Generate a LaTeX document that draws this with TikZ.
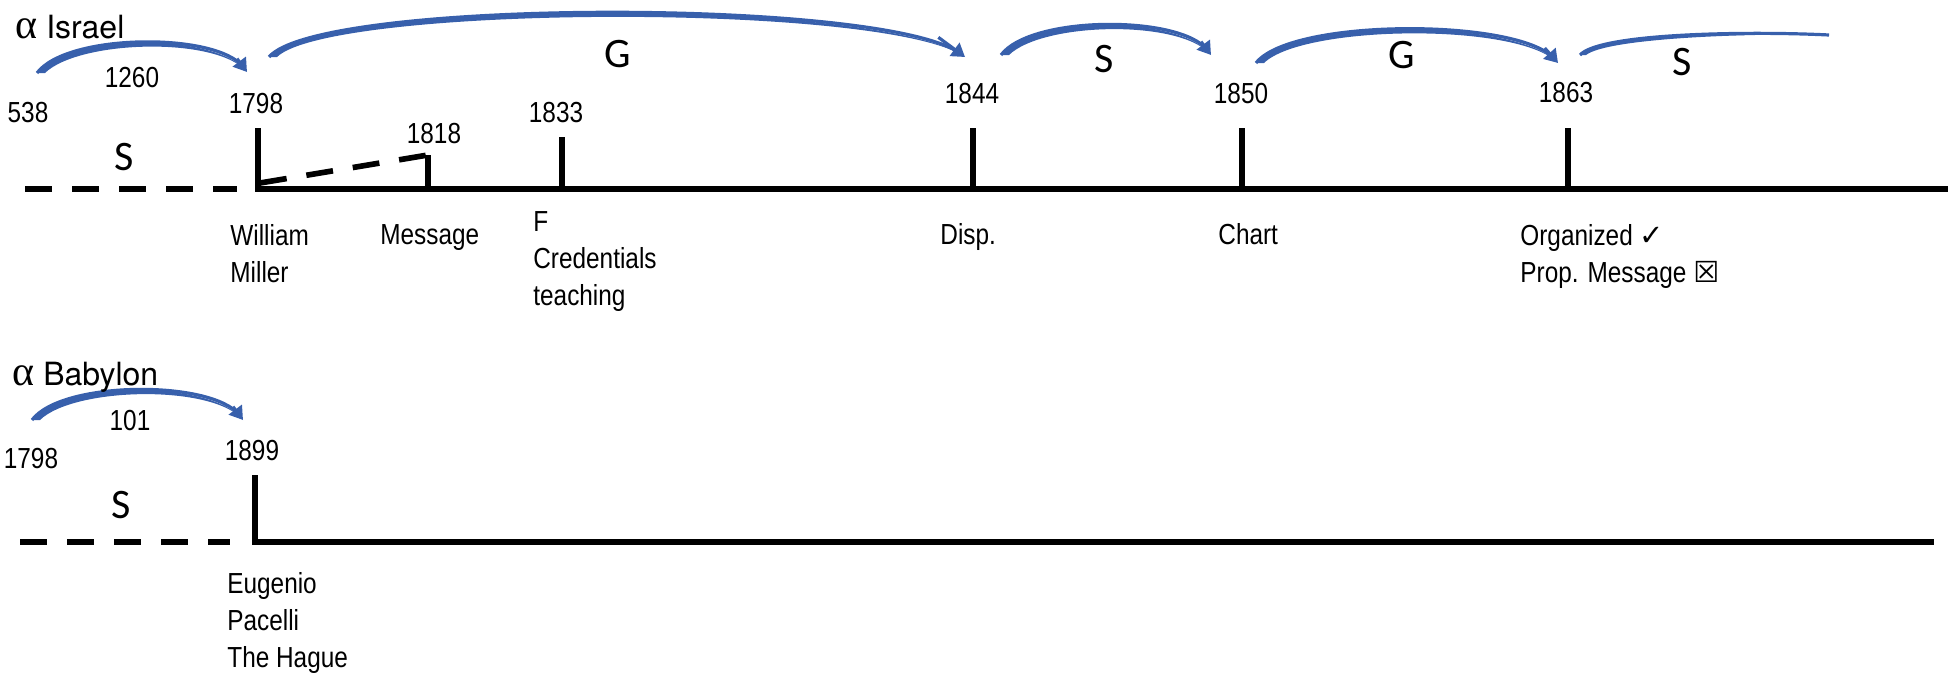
\documentclass[tikz,border=0pt]{standalone}
\usepackage{fontspec}
\setmainfont[FakeStretch=0.84]{Liberation Sans}
\newfontfamily\titlefont{TeX Gyre Heros}
\newfontfamily\alphafont{Liberation Serif}
\newfontfamily\periodfont{Carlito}
\newfontfamily\markfont{DejaVu Sans}
\usetikzlibrary{arrows.meta}
\definecolor{arcblue}{RGB}{56,96,172}
\tikzset{
    timeline/.style={line width=3.25pt, black},
    dashline/.style={line width=3.25pt, black, dash pattern=on 13.5pt off 10pt},
    tickline/.style={line width=3pt, black},
    arcline/.style={line width=1.6pt, arcblue},
    period/.style={arcline, -{Triangle[length=6.5pt,width=8pt]}},
    year/.style={anchor=base, inner sep=0pt, font=\fontsize{14.5}{18.5}\selectfont},
    event/.style={anchor=north west, align=left, inner sep=0pt, font=\fontsize{14.5}{18.5}\selectfont},
    kind/.style={anchor=base, inner sep=0pt, font=\periodfont\fontsize{21}{24}\selectfont},
    title/.style={anchor=base west, inner sep=0pt, font=\titlefont\fontsize{16}{19}\selectfont},
}
\begin{document}
\begin{tikzpicture}[x=0.5pt, y=-0.5pt]
    \useasboundingbox (0,0) rectangle (1948,675);

    % Israel line
    \node[title] (israel) at (15,38) {{\alphafont\fontsize{21}{21}\selectfont α} Israel};

    \coordinate (i0) at (25,189);
    \coordinate (i1) at (237,189);
    \coordinate (i2) at (255,189);
    \coordinate (iend) at (1948,189);
    \draw[dashline] (i0) -- (i1);
    \draw[timeline] (i2) -- (iend);

    \foreach \x/\top/\yr in {258/128/1798, 428/155/1818, 562/137/1833,
                             973/128/1844, 1242/128/1850, 1568/128/1863} {
        \coordinate (b\yr) at (\x,189);
        \coordinate (k\yr) at (\x,\top);
        \draw[tickline] (b\yr) -- (k\yr);
    }

    \coordinate (s1798) at (260,183);
    \draw[dashline, line width=2.8pt] (s1798) -- (k1818);

    % Years
    \foreach \yr/\lx/\ly in {538/28/122, 1798/256/113, 1818/434/143, 1833/556/122,
                             1844/972/103, 1850/1241/103, 1863/1566/102} {
        \node[year] (y\yr) at (\lx,\ly) {\yr};
    }
    \node[year] (d1260) at (132,87) {1260};

    % Periods
    \coordinate (f538) at (37,73);
    \coordinate (e1798) at (247,72);
    \coordinate (f1798) at (269,57);
    \coordinate (e1844) at (965,57);
    \coordinate (f1844) at (1001,55);
    \coordinate (e1850) at (1211,55);
    \coordinate (f1850) at (1256,63);
    \coordinate (e1863) at (1558,63);
    \coordinate (f1863) at (1580,55);
    \coordinate (e1863s) at (1829,35);
    \coordinate (g1798) at (32,420);
    \coordinate (h1899) at (243,420);

    \foreach \f/\e/\a/\b/\h in {f538/e1798/30/30/40, f1798/e1844/50/80/59,
                                f1844/e1850/30/30/40, f1850/e1863/35/40/45,
                                g1798/h1899/30/30/40} {
        \fill[arcblue] (\f) .. controls +(\a,-\h) and +(-\b,-\h) .. (\e)
            .. controls +(-\b,-\h+4) and +(\a+4,-\h+7) .. ([xshift=4pt]\f) -- cycle;
        \draw[arcline, shorten >=3pt] (\f) .. controls +(\a,-\h) and +(-\b,-\h) .. (\e);
        \draw[period] (\e) ++(-\b/3,-\h/3) -- (\e);
    }
    \fill[arcblue] (f1863) .. controls +(20,-22) and +(-80,-4) .. (e1863s)
        .. controls +(-80,-2) and +(22,-17) .. ([xshift=3pt]f1863) -- cycle;
    \draw[arcline] (f1863) .. controls +(20,-22) and +(-80,-4) .. (e1863s);

    \node[kind] (p1) at (124,170) {S};
    \node[kind] (p2) at (618,67) {G};
    \node[kind] (p3) at (1104,72) {S};
    \node[kind] (p4) at (1402,68) {G};
    \node[kind] (p5) at (1682,75) {S};

    % Events
    \node[event] (miller) at (230,224) {William\\Miller};
    \node[event] (message) at (380,224) {Message};
    \node[event] (cred) at (533,211) {F\\Credentials\\teaching};
    \node[event] (disp) at (940,223) {Disp.};
    \node[event] (chart) at (1218,223) {Chart};
    \node[event] (organized) at (1520,224) {Organized {\markfont ✓}\\Prop. Message {\markfont\bfseries ☒}};

    % Babylon line
    \node[title] (babylon) at (12,385) {{\alphafont\fontsize{21}{21}\selectfont α} Babylon};

    \coordinate (j0) at (20,542);
    \coordinate (j1) at (230,542);
    \coordinate (j2) at (252,542);
    \coordinate (jend) at (1934,542);
    \draw[dashline] (j0) -- (j1);
    \draw[timeline] (j2) -- (jend);

    \coordinate (b1899) at (255,542);
    \coordinate (k1899) at (255,475);
    \draw[tickline] (b1899) -- (k1899);

    \node[year] (z1798) at (31,468) {1798};
    \node[year] (z1899) at (252,460) {1899};
    \node[year] (d101) at (130,430) {101};

    \node[kind] (q1) at (121,518) {S};

    \node[event] (pacelli) at (227,572) {Eugenio\\Pacelli\\The Hague};
\end{tikzpicture}
\end{document}
